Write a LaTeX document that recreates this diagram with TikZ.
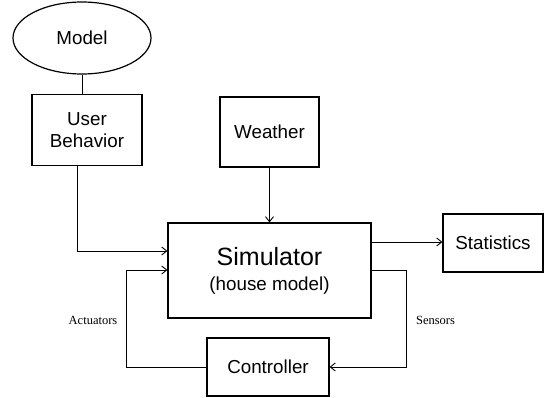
\documentclass[tikz,border=0pt]{standalone}
\usepackage{fontspec}
\setmainfont{Liberation Sans}
\newfontfamily\serifface{Liberation Serif}
\usetikzlibrary{shapes.geometric,arrows.meta}
\begin{document}
\begin{tikzpicture}[x=1pt,y=-1pt,
  blk/.style={draw,line width=1.2pt,inner sep=0pt,font=\fontsize{18.8}{21.5}\selectfont,align=center},
  conn/.style={line width=0.9pt},
  arr/.style={conn,-{Straight Barb[length=5pt,width=8pt]}},
  lbl/.style={font=\serifface\fontsize{12.5}{14}\selectfont}]
\useasboundingbox (0,0) rectangle (544,397);
\node[blk,ellipse,minimum width=138,minimum height=72] (model) at (82,38) {Model};
\node[blk,minimum width=110,minimum height=71] (user) at (87,130) {User\\Behavior};
\node[blk,minimum width=99,minimum height=70] (weather) at (269.5,132) {Weather};
\node[blk,minimum width=203,minimum height=95,font=\fontsize{25}{28}\selectfont] (sim) at (269.5,270.5) {Simulator\\[-3pt]\fontsize{18.8}{21.5}\selectfont(house model)};
\node[blk,minimum width=100,minimum height=58] (stats) at (493,243) {Statistics};
\node[blk,minimum width=122,minimum height=58] (ctrl) at (268,367) {Controller};
\draw[conn] (model.south) -- (model.south |- user.north);
\draw[arr] (77,0 |- user.south) -- (77,251) -- (sim.west |- 0,251);
\draw[arr] (weather.south) -- (sim.north);
\draw[arr] (sim.east |- 0,242) -- (stats.west |- 0,242);
\draw[arr] (sim.east |- 0,270) -- (406,270) -- (406,367) -- (ctrl.east);
\draw[arr] (ctrl.west) -- (126,367) -- (126,270) -- (sim.west |- 0,270);
\node[lbl] (act) at (93,320) {Actuators};
\node[lbl] (sen) at (435.5,320) {Sensors};
\end{tikzpicture}
\end{document}
